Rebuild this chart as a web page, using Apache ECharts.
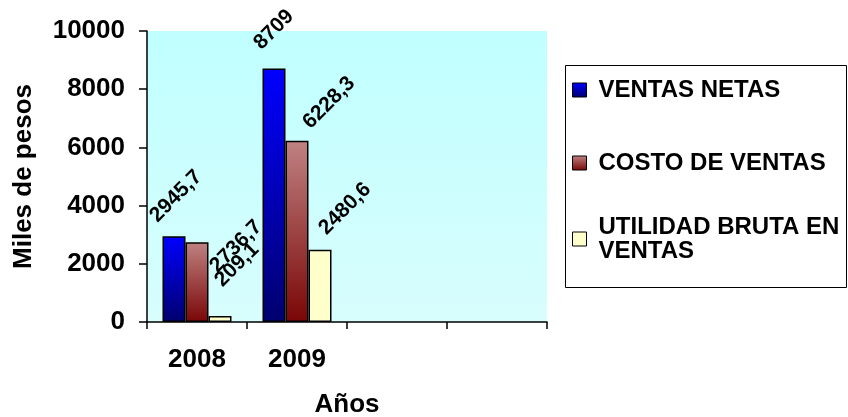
<!DOCTYPE html>
<html>
<head>
<meta charset="utf-8">
<script src="https://cdn.jsdelivr.net/npm/echarts@6/dist/echarts.min.js"></script>
<style>
  html, body { margin: 0; padding: 0; background: #fff; }
  #chart { width: 848px; height: 417px; }
</style>
</head>
<body>
<div id="chart"></div>
<script>
// Years on the category axis (two spare slots stay empty)
const years = ['2008', '2009', '', ''];

// Values in thousands of pesos
const ventasNetas   = [2945.7, 8709];
const costoVentas   = [2736.7, 6228.3];
const utilidadBruta = [209.1, 2480.6];

const seriesNames = ['VENTAS NETAS', 'COSTO DE VENTAS', 'UTILIDAD BRUTA EN VENTAS'];

// Value axis range
const yMin = 0;
const yMax = 10000;
const yStep = 2000;

const FONT = '"Liberation Sans", Arial, Helvetica, sans-serif';
const BAR_W = 23;

// Where each rotated value label sits, measured from the top-centre of its bar
const labelShift = [
  [[2, -40], [0, -39]],
  [[39, 4], [32, -38]],
  [[17, -51], [25, -41]]
];

const fills = [
  new echarts.graphic.LinearGradient(0, 0, 0, 1, [
    { offset: 0, color: '#0000ff' }, { offset: 1, color: '#00006e' }
  ]),
  new echarts.graphic.LinearGradient(0, 0, 0, 1, [
    { offset: 0, color: '#c08282' }, { offset: 1, color: '#7a0606' }
  ]),
  '#ffffcc'
];

const fmt = v => String(v).replace('.', ',');

function barSeries(idx, values) {
  return {
    name: seriesNames[idx],
    type: 'bar',
    barWidth: BAR_W,
    barGap: 0,
    itemStyle: { color: fills[idx], borderColor: '#000', borderWidth: 1.5 },
    label: {
      show: true,
      rotate: 45,
      align: 'center',
      verticalAlign: 'middle',
      fontFamily: FONT,
      fontWeight: 'bold',
      fontSize: 21,
      color: '#000',
      formatter: p => fmt(p.value)
    },
    data: values.map((v, i) => ({
      value: v,
      label: { position: [BAR_W / 2 + labelShift[idx][i][0], labelShift[idx][i][1]] }
    })),
    emphasis: { disabled: true }
  };
}

const legendPad = (top, bottom) => ({
  padding: [top, 0, bottom, 7],
  backgroundColor: 'rgba(255,255,255,0)'
});

const chart = echarts.init(document.getElementById('chart'), null, { renderer: 'canvas' });

chart.setOption({
  animation: false,
  backgroundColor: '#fff',
  textStyle: { fontFamily: FONT },
  grid: {
    left: 147, right: 301, top: 31, bottom: 95,
    outerBoundsMode: 'none',
    containLabel: false,
    show: true,
    borderWidth: 0,
    backgroundColor: new echarts.graphic.LinearGradient(0, 0, 0, 1, [
      { offset: 0, color: '#c0ffff' }, { offset: 1, color: '#d8fdfd' }
    ])
  },
  graphic: [{
    type: 'rect',
    shape: { x: 565.5, y: 65.5, width: 281, height: 222 },
    style: { fill: 'none', stroke: '#000', lineWidth: 1 },
    silent: true
  }],
  legend: {
    orient: 'vertical',
    left: 572,
    top: 57,
    padding: 0,
    itemGap: 7,
    itemWidth: 14,
    itemHeight: 14,
    icon: 'rect',
    itemStyle: { borderColor: '#000', borderWidth: 1 },
    selectedMode: false,
    textStyle: {
      fontFamily: FONT, fontWeight: 'bold', fontSize: 24, color: '#000', lineHeight: 24
    },
    formatter: name => name === seriesNames[2] ? 'UTILIDAD BRUTA EN\nVENTAS' : name,
    data: [
      { name: seriesNames[0], textStyle: legendPad(21, 21) },
      { name: seriesNames[1], textStyle: legendPad(21, 21) },
      { name: seriesNames[2], textStyle: legendPad(24, 0) }
    ]
  },
  xAxis: {
    type: 'category',
    data: years,
    name: 'Años',
    nameLocation: 'middle',
    nameGap: 70,
    nameTextStyle: { fontFamily: FONT, fontWeight: 'bold', fontSize: 26, color: '#000' },
    axisLine: { lineStyle: { color: '#000', width: 1.5 } },
    axisTick: { show: true, length: 7, lineStyle: { color: '#000', width: 1.5 } },
    axisLabel: { margin: 25, fontFamily: FONT, fontWeight: 'bold', fontSize: 26, color: '#000' },
    splitLine: { show: false }
  },
  yAxis: {
    type: 'value',
    min: yMin,
    max: yMax,
    interval: yStep,
    name: 'Miles de pesos',
    nameLocation: 'middle',
    nameRotate: 90,
    nameGap: 110,
    nameTextStyle: { fontFamily: FONT, fontWeight: 'bold', fontSize: 26, color: '#000' },
    axisLine: { show: true, lineStyle: { color: '#000', width: 1.5 } },
    axisTick: { show: true, length: 8, lineStyle: { color: '#000', width: 1.5 } },
    axisLabel: {
      margin: 22, fontFamily: FONT, fontWeight: 'bold', fontSize: 26, color: '#000',
      formatter: v => String(v)
    },
    splitLine: { show: false }
  },
  series: [
    barSeries(0, ventasNetas),
    barSeries(1, costoVentas),
    barSeries(2, utilidadBruta)
  ]
});
</script>
</body>
</html>
